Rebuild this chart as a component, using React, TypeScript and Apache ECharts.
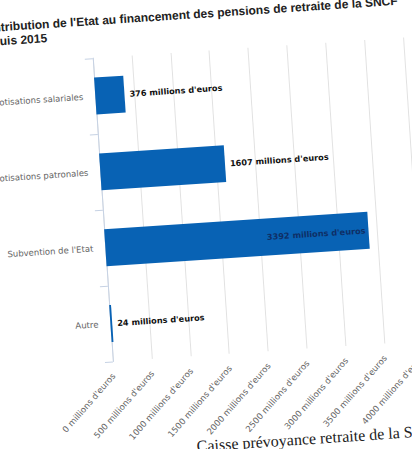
import React, { useEffect, useRef } from "react";
import * as echarts from "echarts";

const categories = [
  "Cotisations salariales",
  "Cotisations patronales",
  "Subvention de l'Etat",
  "Autre",
];
const values = [376, 1607, 3392, 24];
const insideIndex = 2;
const axisMax = 4000;
const axisStep = 500;
const titleLine1 = "Contribution de l'Etat au financement des pensions de retraite de la SNCF";
const titleLine2 = "depuis 2015";
const footerText = "Caisse prévoyance retraite de la SNCF";

export default function App() {
  const ref = useRef<HTMLDivElement>(null);
  useEffect(() => {
    if (!ref.current) return;
    const chart = echarts.init(ref.current, null, { renderer: "svg" });
    chart.setOption({
      animation: false,
      backgroundColor: "#ffffff",
      grid: { left: 144, right: 37, top: 81, bottom: 125, containLabel: false },
      xAxis: {
        type: "value",
        min: 0,
        max: axisMax,
        interval: axisStep,
        axisLine: { show: false },
        axisTick: { show: false },
        splitLine: { lineStyle: { color: "#e2e2e2", width: 1 } },
        axisLabel: {
          formatter: (v: number) => `${v} millions d'euros`,
          rotate: 45,
          margin: 13,
          color: "#666666",
          fontSize: 8.6,
          fontFamily: "DejaVu Sans",
        },
      },
      yAxis: {
        type: "category",
        data: categories,
        inverse: true,
        axisLine: { lineStyle: { color: "#c6d2e4", width: 1 } },
        axisTick: { show: true, length: 8, lineStyle: { color: "#c6d2e4" } },
        axisLabel: {
          margin: 12,
          color: "#666666",
          fontSize: 8.5,
          fontFamily: "DejaVu Sans",
        },
        splitLine: { show: false },
      },
      series: [
        {
          type: "bar",
          barWidth: 37,
          data: values.map((v, i) => ({
            value: v,
            label:
              i === insideIndex
                ? { position: "insideRight", distance: 3, color: "#0f2f66" }
                : { position: "right", distance: 5, color: "#111111" },
          })),
          itemStyle: { color: "#0862b4" },
          label: {
            show: true,
            formatter: "{c} millions d'euros",
            fontSize: 8.2,
            fontWeight: "bold",
            fontFamily: "DejaVu Sans",
          },
        },
      ],
      graphic: [
        {
          type: "text",
          x: 31,
          y: 50,
          style: {
            text: titleLine1,
            font: "bold 12px 'Liberation Sans', Arial, sans-serif",
            fill: "#222222",
            verticalAlign: "bottom",
          },
        },
        {
          type: "text",
          x: 31,
          y: 64,
          style: {
            text: titleLine2,
            font: "bold 12px 'Liberation Sans', Arial, sans-serif",
            fill: "#222222",
            verticalAlign: "bottom",
          },
        },
        {
          type: "text",
          x: 222,
          y: 483,
          z: -1,
          style: {
            text: footerText,
            font: "16px 'Liberation Serif', serif",
            fill: "#222222",
            verticalAlign: "bottom",
          },
        },
      ],
    });
    return () => chart.dispose();
  }, []);

  return (
    <div
      style={{
        position: "fixed",
        left: 0,
        top: 0,
        width: 412,
        height: 449,
        overflow: "hidden",
        background: "#ffffff",
      }}
    >
      <div
        ref={ref}
        style={{
          position: "absolute",
          left: -40,
          top: -30,
          width: 492,
          height: 510,
          transform: "rotate(-3.8deg)",
          transformOrigin: "246px 254px",
        }}
      />
    </div>
  );
}
